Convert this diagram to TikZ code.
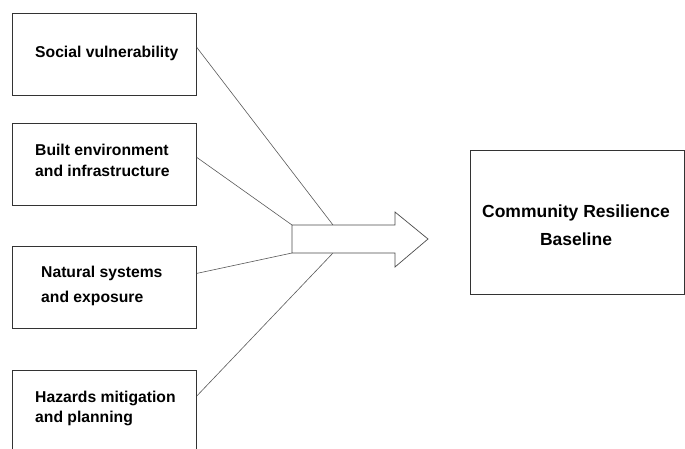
\documentclass[tikz,border=0pt]{standalone}
\usepackage{fontspec}
\setmainfont{Liberation Sans}
\usetikzlibrary{calc}
\begin{document}
\begin{tikzpicture}[x=1pt,y=-1pt,
  box/.style={draw=black!80, line width=0.8pt, minimum width=184pt, minimum height=82pt, inner sep=0pt, anchor=north west},
  bigbox/.style={draw=black!80, line width=0.8pt, minimum width=214pt, minimum height=144pt, inner sep=0pt, anchor=north west},
  lbl/.style={inner sep=0pt, anchor=west, align=left},
  conn/.style={draw=black!65, line width=0.6pt},
  arrowshape/.style={draw=black!70, line width=0.7pt, fill=white}]
\useasboundingbox (0,0) rectangle (685,449);
% boxes
\node[box] (b1) at (12,13) {};
\node[box] (b2) at (12,123) {};
\node[box] (b3) at (12,246) {};
\node[box] (b4) at (12,370) {};
\node[bigbox] (res) at (470,150) {};
% labels
\node[lbl, font=\fontsize{15.7}{18}\selectfont\bfseries] (t1) at (35,53) {Social vulnerability};
\node[lbl, font=\fontsize{15.7}{21}\selectfont\bfseries] (t2) at (35,160.5) {Built environment\\and infrastructure};
\node[lbl, font=\fontsize{15.7}{25}\selectfont\bfseries] (t3) at (41,285.5) {Natural systems\\and exposure};
\node[lbl, font=\fontsize{15.7}{20}\selectfont\bfseries] (t4) at (35,408) {Hazards mitigation\\and planning};
\node[font=\fontsize{17.5}{28}\selectfont\bfseries, inner sep=0pt, align=center] (t5) at (576,225) {Community Resilience\\Baseline};
% arrow corners
\coordinate (a1) at (292,225);
\coordinate (a2) at (395,225);
\coordinate (a3) at (395,212);
\coordinate (a4) at (428,239);
\coordinate (a5) at (395,267);
\coordinate (a6) at (395,253);
\coordinate (a7) at (292,253);
\coordinate (up) at (333,225);
\coordinate (lo) at (333,253);
% connectors
\draw[conn] ($(b1.east)+(0,-7)$) -- (up);
\draw[conn] ($(b2.east)+(0,-7)$) -- (a1);
\draw[conn] ($(b3.east)+(0,-14)$) -- (a7);
\draw[conn] ($(b4.north east)+(0,26)$) -- (lo);
\draw[arrowshape] (a1) -- (a2) -- (a3) -- (a4) -- (a5) -- (a6) -- (a7) -- cycle;
\end{tikzpicture}
\end{document}
